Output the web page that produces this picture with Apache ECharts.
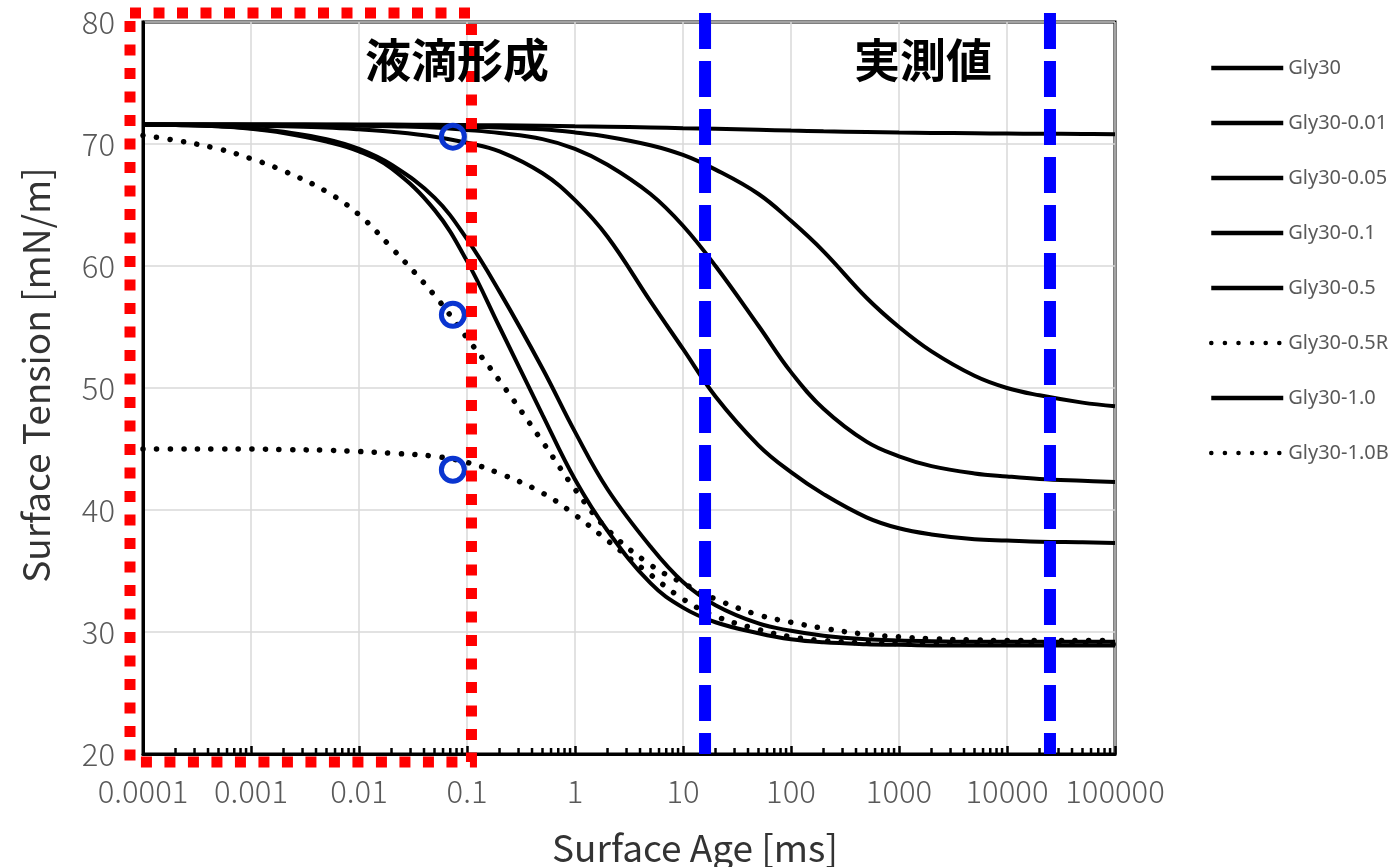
<!DOCTYPE html>
<html><head><meta charset="utf-8">
<script src="https://cdn.jsdelivr.net/npm/echarts@6/dist/echarts.min.js"></script>
<style>html,body{margin:0;padding:0;background:#fff}#c{width:1400px;height:867px}</style>
</head><body><div id="c"></div>
<script>
// ---- data (surface age in ms, surface tension in mN/m) ----
const ages = [1e-4, 2e-4, 5e-4, 1e-3, 2e-3, 5e-3, 0.01, 0.02, 0.05, 0.1, 0.2, 0.5, 1, 2, 5, 10, 20, 50, 100, 200, 500, 1000, 2000, 5000, 1e4, 2e4, 5e4, 1e5];
const gly30      = [71.6, 71.6, 71.6, 71.6, 71.6, 71.6, 71.6, 71.59, 71.57, 71.55, 71.53, 71.5, 71.46, 71.42, 71.36, 71.3, 71.25, 71.17, 71.1, 71.04, 70.98, 70.94, 70.91, 70.88, 70.86, 70.84, 70.82, 70.8];
const gly30_001  = [71.6, 71.6, 71.6, 71.6, 71.6, 71.58, 71.56, 71.53, 71.5, 71.42, 71.35, 71.2, 70.95, 70.6, 69.9, 69.1, 67.9, 65.9, 63.7, 61.2, 57.4, 55.0, 53.0, 51.0, 50.0, 49.4, 48.8, 48.5];
const gly30_005  = [71.6, 71.6, 71.6, 71.58, 71.56, 71.53, 71.5, 71.45, 71.35, 71.15, 70.9, 70.4, 69.6, 68.3, 65.9, 63.3, 60.0, 55.1, 51.3, 48.3, 45.6, 44.4, 43.6, 43.0, 42.75, 42.55, 42.4, 42.3];
const gly30_01   = [71.6, 71.6, 71.55, 71.5, 71.45, 71.35, 71.2, 71.0, 70.6, 70.1, 69.4, 67.6, 65.4, 62.4, 57.1, 53.2, 49.3, 45.3, 43.1, 41.3, 39.4, 38.5, 38.0, 37.6, 37.5, 37.4, 37.35, 37.3];
const gly30_05   = [71.6, 71.55, 71.45, 71.3, 71.0, 70.4, 69.6, 68.3, 65.6, 62.2, 57.9, 51.6, 46.4, 41.7, 37.0, 34.1, 32.2, 30.7, 30.1, 29.7, 29.4, 29.3, 29.25, 29.2, 29.2, 29.2, 29.2, 29.2];
const gly30_05R  = [70.7, 70.3, 69.6, 68.8, 67.8, 66.1, 64.2, 61.5, 57.6, 54.1, 50.6, 45.6, 41.7, 38.4, 35.5, 34.0, 32.7, 31.4, 30.8, 30.3, 29.8, 29.6, 29.45, 29.35, 29.3, 29.3, 29.3, 29.3];
const gly30_10   = [71.6, 71.55, 71.45, 71.25, 70.9, 70.2, 69.4, 68.0, 64.6, 60.4, 55.0, 47.8, 42.5, 38.3, 34.0, 32.0, 30.8, 29.9, 29.4, 29.15, 29.0, 28.95, 28.9, 28.9, 28.9, 28.9, 28.9, 28.9];
const gly30_10B  = [45.0, 45.0, 45.0, 45.0, 44.95, 44.9, 44.8, 44.65, 44.4, 43.9, 43.0, 41.4, 39.6, 37.5, 34.7, 32.7, 31.3, 30.2, 29.6, 29.3, 29.1, 29.05, 29.0, 29.0, 29.0, 29.0, 29.0, 29.0];

const seriesNames = ['Gly30', 'Gly30-0.01', 'Gly30-0.05', 'Gly30-0.1', 'Gly30-0.5', 'Gly30-0.5R', 'Gly30-1.0', 'Gly30-1.0B'];
const seriesValues = [gly30, gly30_001, gly30_005, gly30_01, gly30_05, gly30_05R, gly30_10, gly30_10B];
const dottedSeries = ['Gly30-0.5R', 'Gly30-1.0B'];

const markerAges = [0.074, 0.074, 0.074];
const markerValues = [70.6, 56.0, 43.3];

const xTickLabels = ['0.0001', '0.001', '0.01', '0.1', '1', '10', '100', '1000', '10000', '100000'];
const regionLabels = ['液滴形成', '実測値'];
const regionLabelAges = [0.081, 1670];
const regionLabelValue = 76.9;
const measureLineAges = [16, 25000];
const dropRegionEndAge = 0.11;

// ---- chart ----
const FONT = '"Noto Sans CJK JP", "Noto Sans", sans-serif';
const chart = echarts.init(document.getElementById('c'), null, {renderer: 'canvas'});

const minorTicks = [];
xTickLabels.slice(0, -1).forEach(l => { const d = Number(l); for (let k = 2; k <= 9; k++) minorTicks.push([k * d, 20]); });

const series = seriesNames.map((name, si) => ({
  name, type: 'line', symbol: 'none', showSymbol: false, smooth: 0.4,
  data: ages.map((a, i) => [a, seriesValues[si][i]]),
  lineStyle: dottedSeries.includes(name)
    ? {color: '#000', width: 5.5, type: [0.1, 13.5], cap: 'round'}
    : {color: '#000', width: 4},
  itemStyle: {color: '#000'},
  z: 3
}));
series.push({
  name: 'markers', type: 'scatter', symbol: 'circle', symbolSize: 23,
  data: markerAges.map((a, i) => [a, markerValues[i]]),
  itemStyle: {color: 'rgba(0,0,0,0)', borderColor: '#0a35d0', borderWidth: 5, opacity: 1},
  z: 6, silent: true
});
series.push({
  name: 'minorTicks', type: 'custom', data: minorTicks, silent: true, clip: false, z: 4,
  encode: {x: 0, y: 1},
  renderItem: (params, api) => {
    const p = api.coord([api.value(0), api.value(1)]);
    return {type: 'line', shape: {x1: p[0], y1: p[1], x2: p[0], y2: p[1] - 6}, style: {stroke: '#000', lineWidth: 2.5}};
  }
});

chart.setOption({
  animation: false,
  textStyle: {fontFamily: FONT},
  grid: {left: 143, right: 285, top: 22, bottom: 113, show: true, borderColor: '#000', borderWidth: 3,
    backgroundColor: 'transparent', outerBoundsMode: 'none', containLabel: false},
  legend: {
    data: seriesNames, orient: 'vertical', left: 1209, top: 58, padding: 0,
    itemWidth: 72, itemHeight: 20, itemGap: 35,
    textStyle: {color: '#595959', fontSize: 20, fontFamily: '"Noto Sans", sans-serif', lineHeight: 20},
    lineStyle: {width: 4.5},
    itemStyle: {color: 'rgba(0,0,0,0)', borderWidth: 0, opacity: 0}
  },
  xAxis: {
    type: 'log', logBase: 10, min: 1e-4, max: 1e5, splitNumber: 9,
    axisLine: {show: true, lineStyle: {color: '#000', width: 3}},
    axisTick: {show: true, inside: true, length: 8, lineStyle: {color: '#000', width: 2.5}},
    splitLine: {show: true, lineStyle: {color: '#d9d9d9', width: 1.5}},
    axisLabel: {color: '#595959', fontSize: 31, fontWeight: 300, margin: 22,
      formatter: v => xTickLabels[Math.round(Math.log10(v)) + 4]},
    name: 'Surface Age [ms]', nameLocation: 'middle', nameGap: 75,
    nameTextStyle: {color: '#333', fontSize: 37, padding: [0, 0, 0, 132]}
  },
  yAxis: {
    type: 'value', min: 20, max: 80, interval: 10,
    axisLine: {show: true, lineStyle: {color: '#000', width: 3}},
    axisTick: {show: false},
    splitLine: {show: true, lineStyle: {color: '#d9d9d9', width: 1.5}},
    axisLabel: {color: '#595959', fontSize: 31, fontWeight: 300, margin: 28},
    name: 'Surface Tension [mN/m]', nameLocation: 'middle', nameGap: 89,
    nameTextStyle: {color: '#333', fontSize: 37, padding: [0, 0, 0, 26]}
  },
  series
});

// ---- annotations placed through the axes ----
const toPx = (x, y) => chart.convertToPixel({gridIndex: 0}, [x, y]);
const tl = toPx(1e-4, 80), br = toPx(1e5, 20);
const plotTop = tl[1], plotBottom = br[1], plotLeft = tl[0];
const redRight = toPx(dropRegionEndAge, 20)[0];
const graphics = [];
graphics.push({
  type: 'rect', z: 100, silent: true,
  shape: {x: plotLeft - 13, y: plotTop - 9, width: redRight - (plotLeft - 13), height: (plotBottom + 8) - (plotTop - 9)},
  style: {fill: null, stroke: '#ff0000', lineWidth: 11, lineDash: [11, 12.5]}
});
measureLineAges.forEach(a => {
  const x = toPx(a, 20)[0];
  graphics.push({type: 'line', z: 100, silent: true,
    shape: {x1: x, y1: plotTop - 9, x2: x, y2: plotBottom},
    style: {stroke: '#0000ff', lineWidth: 12, lineDash: [36, 12]}});
});
regionLabels.forEach((t, i) => {
  const p = toPx(regionLabelAges[i], regionLabelValue);
  graphics.push({type: 'text', z: 101, silent: true,
    style: {text: t, x: p[0], y: p[1], fill: '#000', fontSize: 46, fontWeight: 'bold', fontFamily: '"Noto Sans CJK JP"', align: 'center', verticalAlign: 'middle'}});
});
chart.setOption({graphic: graphics});
</script></body></html>
